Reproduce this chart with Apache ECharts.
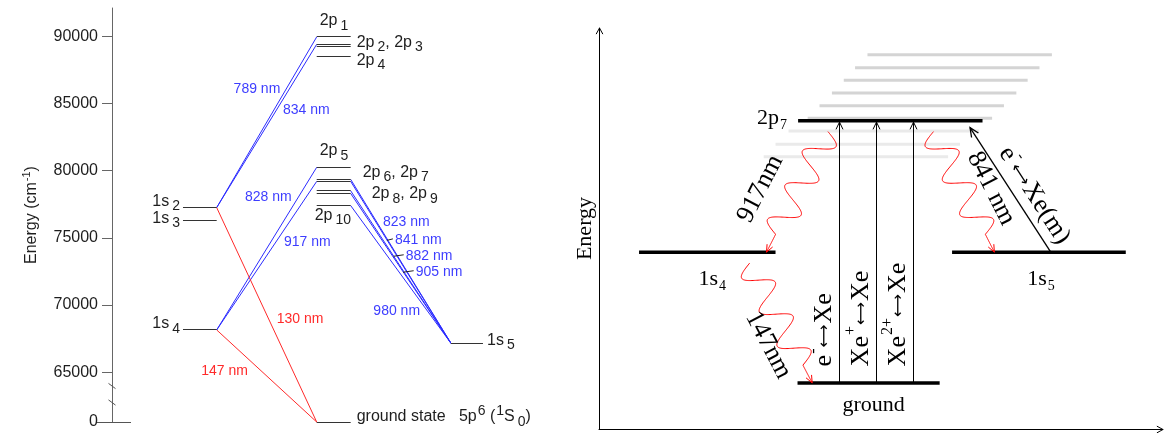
<!DOCTYPE html>
<html>
<head>
<meta charset="utf-8">
<title>Xe energy levels</title>
<script src="https://cdn.jsdelivr.net/npm/echarts@6.0.0/dist/echarts.min.js"></script>
<style>
html, body { margin: 0; padding: 0; background: #fff; }
#chart { width: 1166px; height: 433px; }
</style>
</head>
<body>
<div id="chart"></div>
<script>
// ---------- Xe I term diagram (left) ----------
// level energies in cm^-1
const levelNames    = ['1s2', '1s3', '1s4', '1s5', '2p1', '2p2', '2p3', '2p4', '2p5', '2p6', '2p7', '2p8', '2p9', '2p10', 'ground'];
const levelEnergies = [77250, 76300, 68150, 67150, 89950, 89400, 89250, 88500, 80250, 79350, 79200, 78500, 78300, 77400, 0];
const levelColumns  = ['1s', '1s', '1s', '1s5', '2p', '2p', '2p', '2p', '2p', '2p', '2p', '2p', '2p', '2p', '2p'];

// levels that share one name tag
const levelTagGroups = [['1s2'], ['1s3'], ['1s4'], ['1s5'], ['2p1'], ['2p2', '2p3'], ['2p4'], ['2p5'], ['2p6', '2p7'], ['2p8', '2p9'], ['2p10'], ['ground']];
const groundTagText  = '{m|ground state   5p}{p|6}{m| (}{p|1}{m|S}{s|0}{m|)}';

// radiative transitions, wavelength in nm
const transUpper = ['2p1', '2p2', '2p5', '2p7', '2p6', '2p7', '2p8', '2p9', '2p10', '1s2', '1s4'];
const transLower = ['1s2', '1s2', '1s4', '1s4', '1s5', '1s5', '1s5', '1s5', '1s5', 'ground', 'ground'];
const transNm    = [789, 834, 828, 917, 823, 841, 882, 905, 980, 130, 147];

// energy axis
const yTickValues = [0, 65000, 70000, 75000, 80000, 85000, 90000];

// ---------- excitation / de-excitation scheme (right) ----------
const schemeLevelNames = ['2p7', '1s4', '1s5', 'ground'];
const schemeLevelY     = [76.9, 44.1, 44.1, 11.5];
const schemeLevelFrom  = [35.3, 7.1, 62.6, 35.2];
const schemeLevelTo    = [68.0, 31.3, 93.4, 60.4];
const schemeLevelTags  = ['{m|2p}{s|7}', '{m|1s}{s|4}', '{m|1s}{s|5}', '{m|ground}'];

// higher-lying levels shown as a faint band
const bandY    = [93.3, 90.1, 87.0, 83.8, 80.6, 77.5, 74.3, 71.0, 67.9];
const bandFrom = [47.6, 45.4, 43.4, 41.3, 39.1, 37.0, 33.6, 31.3, 29.2];
const bandTo   = [80.3, 78.1, 76.0, 74.0, 71.8, 69.7, 67.4, 64.0, 61.9];

// collisional excitation ground -> 2p7
const collisionX    = [42.6, 49.2, 55.7];
const collisionTags = ['{m|e}{p|-}{a|⟷}{m|Xe}', '{m|Xe}{p|+}{a|⟷}{m|Xe}', '{m|Xe}{p|2+}{a|⟷}{m|Xe}'];

// metastable 1s5 -> 2p7 by electron collision
const quenchFrom = ['1s5'];
const quenchTo   = ['2p7'];
const quenchX0   = [80.1];
const quenchX1   = [66.5];
const quenchTags = ['{m|e}{p|-}{a|⟷}{m|Xe(m)}'];

// photon emission
const emitFrom = ['2p7', '2p7', '1s4'];
const emitTo   = ['1s4', '1s5', 'ground'];
const emitX0   = [40.6, 59.3, 26.7];
const emitX1   = [29.7, 70.1, 37.8];
const emitTags = ['917nm', '841 nm', '147nm'];

// ---------- drawing ----------
const SANS  = "'Liberation Sans', Arial, sans-serif";
const SERIF = "'Liberation Serif', 'Times New Roman', serif";
const ARROWS = "'DejaVu Sans', sans-serif";
const BLUE = '#2b2bff', BLUE_TEXT = '#3d3dff', RED = '#ff2a2a';

const AXIS_FLOOR = 61300;            // 0 cm^-1 sits here, below the axis break
const AXIS_TOP   = 92100;
const toAxis = e => (e < 60000 ? AXIS_FLOOR : e);
const crisp  = v => Math.round(v - 0.5) + 0.5;

// column spans of the term diagram on its 0..100 x scale
const COLUMN_SPAN = { '1s': [15.17, 22.37], '2p': [43.74, 51.0], '1s5': [72.44, 79.27] };

// rich text set with sub/superscripts; `centre` is the offset of the main row centre from the block top
function richSet(family, main, small, color, subGap, useEc) {
  const k = Math.round(main * 0.4);
  const mc = k + (main + 2) / 2;
  const c = useEc ? { color } : { fill: color };
  const arrowSize = Math.round(main * 0.6);
  return {
    centre: mc,
    rich: {
      m: Object.assign({ fontFamily: family, fontSize: main, lineHeight: main + 2, padding: [k, 0, 0, 0], verticalAlign: 'top' }, c),
      p: Object.assign({ fontFamily: family, fontSize: small, lineHeight: small + 1, padding: [Math.max(0, Math.round(mc - 0.4 * main - (small + 1) / 2)), 0, 0, 1], verticalAlign: 'top' }, c),
      s: Object.assign({ fontFamily: family, fontSize: small, lineHeight: small + 1, padding: [Math.round(mc - 0.5 + 0.3 * main - (small + 1) / 2), 0, 0, subGap], verticalAlign: 'top' }, c),
      a: Object.assign({ fontFamily: ARROWS, fontSize: arrowSize, lineHeight: arrowSize + 2, padding: [Math.round(mc - (arrowSize + 2) / 2 + 1), 1, 0, 1], verticalAlign: 'top' }, c)
    }
  };
}
const LEFT_RICH   = richSet(SANS, 16, 14, '#1e1e1e', 3);
const AXIS_RICH   = richSet(SANS, 16, 11, '#1e1e1e', 0, true);
const TAG_RICH    = richSet(SERIF, 22, 14, '#000', 1);
const ARROW_RICH  = richSet(SERIF, 26, 16, '#000', 1);

function richText(x, y, text, rs, align, rotation) {
  return {
    type: 'text', x, y, rotation: rotation || 0,
    style: { text, rich: rs.rich, x: 0, y: -rs.centre, align, verticalAlign: 'top' }
  };
}

function fmtLevel(name) {
  const m = name.match(/^(\d[a-z])(\d+)$/);
  return '{m|' + m[1] + '}{s|' + m[2] + '}';
}

function chevron(tip, from, len, half, color, width) {
  const ang = Math.atan2(from[1] - tip[1], from[0] - tip[0]);
  const a1 = ang + half, a2 = ang - half;
  return {
    type: 'polyline',
    shape: { points: [[tip[0] + len * Math.cos(a1), tip[1] + len * Math.sin(a1)], tip, [tip[0] + len * Math.cos(a2), tip[1] + len * Math.sin(a2)]] },
    style: { stroke: color, lineWidth: width || 1, fill: null }
  };
}

// --- term diagram: level bars
function renderLevel(params, api) {
  const i = params.dataIndex;
  const span = COLUMN_SPAN[levelColumns[i]];
  const e = toAxis(levelEnergies[i]);
  const a = api.coord([span[0], e]), b = api.coord([span[1], e]);
  const y = crisp(a[1]);
  return { type: 'line', shape: { x1: a[0], y1: y, x2: b[0], y2: y }, style: { stroke: '#333', lineWidth: 1 } };
}

// --- term diagram: level name tags
const TAG_PLACE = {
  '1s2':    { side: 'left',  dx: -3, dy: -5 },
  '1s3':    { side: 'left',  dx: -3, dy: -1 },
  '1s4':    { side: 'left',  dx: -3, dy: -5 },
  '1s5':    { side: 'right', dx: 4,  dy: -2 },
  '2p1':    { side: 'above', dx: 3,  dy: -15 },
  '2p2':    { side: 'right', dx: 6,  dy: -1 },
  '2p4':    { side: 'right', dx: 6,  dy: 5 },
  '2p5':    { side: 'above', dx: 3,  dy: -15.5 },
  '2p6':    { side: 'right', dx: 12, dy: -6 },
  '2p8':    { side: 'right', dx: 21, dy: 4 },
  '2p10':   { side: 'below', dx: -2, dy: 11 },
  'ground': { side: 'right', dx: 6,  dy: -4 }
};
function renderLevelTag(params, api) {
  const group = levelTagGroups[params.dataIndex];
  const i = levelNames.indexOf(group[0]);
  const span = COLUMN_SPAN[levelColumns[i]];
  const e = toAxis(levelEnergies[i]);
  const a = api.coord([span[0], e]), b = api.coord([span[1], e]);
  const place = TAG_PLACE[group[0]];
  const text = group[0] === 'ground' ? groundTagText : group.map(fmtLevel).join('{m|, }');
  let x, align;
  if (place.side === 'left') { x = a[0] + place.dx; align = 'right'; }
  else if (place.side === 'right') { x = b[0] + place.dx; align = 'left'; }
  else { x = a[0] + place.dx; align = 'left'; }
  return richText(x, a[1] + place.dy, text, LEFT_RICH, align);
}

// --- term diagram: transitions
const TRANS_LABEL = {
  789: { t: 0.696, dx: -6,   align: 'right' },
  834: { t: 0.596, dx: 6.7,  align: 'left' },
  828: { t: 0.816, dx: -6.6, align: 'right' },
  917: { t: 0.589, dx: 8.4,  align: 'left' },
  823: { t: 0.261, dx: 6.1,  align: 'left' },
  841: { t: 0.361, dx: 8,    align: 'left', leader: true },
  882: { t: 0.426, dx: 12.3, align: 'left', leader: true },
  905: { t: 0.522, dx: 12.6, align: 'left', leader: true },
  980: { t: 0.764, dx: -7.3, align: 'right' },
  130: { t: 0.519, dx: 8.1,  align: 'left' },
  147: { t: 0.446, dx: -13.3, align: 'right' }
};
function renderTransition(params, api) {
  const i = params.dataIndex;
  const up = levelNames.indexOf(transUpper[i]), lo = levelNames.indexOf(transLower[i]);
  const su = COLUMN_SPAN[levelColumns[up]], sl = COLUMN_SPAN[levelColumns[lo]];
  const eu = toAxis(levelEnergies[up]), el = toAxis(levelEnergies[lo]);
  // join the facing ends of the two bars
  let A, B;
  if (su[0] > sl[1]) { A = api.coord([sl[1], el]); B = api.coord([su[0], eu]); }
  else { A = api.coord([su[1], eu]); B = api.coord([sl[0], el]); }
  const vuv = transNm[i] < 200;
  const children = [{
    type: 'line', shape: { x1: A[0], y1: A[1], x2: B[0], y2: B[1] },
    style: { stroke: vuv ? RED : BLUE, lineWidth: 1 }
  }];
  const lab = TRANS_LABEL[transNm[i]];
  if (lab) {
    const px = A[0] + (B[0] - A[0]) * lab.t, py = A[1] + (B[1] - A[1]) * lab.t;
    children.push({
      type: 'text', x: px + lab.dx, y: py,
      style: { text: transNm[i] + ' nm', fontFamily: SANS, fontSize: 14, fill: vuv ? RED : BLUE_TEXT, align: lab.align, verticalAlign: 'middle' }
    });
    if (lab.leader) {
      children.push({
        type: 'line', shape: { x1: px, y1: py + 0.5, x2: px + lab.dx - 2, y2: py - 1 },
        style: { stroke: '#222', lineWidth: 1 }
      });
    }
  }
  return { type: 'group', children };
}

// --- term diagram: axis foot and break marks
function renderAxisBreak(params, api) {
  const base = api.coord([0, AXIS_FLOOR]);
  const x = base[0], y = crisp(base[1]);
  const slash = cy => ({ type: 'line', shape: { x1: x - 3.5, y1: cy - 2.6, x2: x + 3.5, y2: cy + 2.6 }, style: { stroke: '#555', lineWidth: 1 } });
  return {
    type: 'group',
    children: [
      { type: 'line', shape: { x1: x - 15, y1: y, x2: x + 19, y2: y }, style: { stroke: '#555', lineWidth: 1 } },
      slash(y - 36.5),
      slash(y - 20)
    ]
  };
}

// --- scheme: faint band of higher levels
function renderBand(params, api) {
  const i = params.dataIndex;
  const a = api.coord([bandFrom[i], bandY[i]]), b = api.coord([bandTo[i], bandY[i]]);
  const above = bandY[i] > schemeLevelY[0];
  return { type: 'line', shape: { x1: a[0], y1: a[1], x2: b[0], y2: b[1] }, style: { stroke: above ? '#d4d4d4' : '#eaeaea', lineWidth: 3 } };
}

// --- scheme: levels and their tags
const SCHEME_TAG_PLACE = {
  '2p7':    { side: 'left',  dx: -11, dy: -1 },
  '1s4':    { side: 'below', dx: 5,   dy: 28 },
  '1s5':    { side: 'below', dx: 2,   dy: 28 },
  'ground': { side: 'below', dx: 5,   dy: 23 }
};
function renderSchemeLevel(params, api) {
  const i = params.dataIndex;
  const a = api.coord([schemeLevelFrom[i], schemeLevelY[i]]), b = api.coord([schemeLevelTo[i], schemeLevelY[i]]);
  const place = SCHEME_TAG_PLACE[schemeLevelNames[i]];
  const tag = place.side === 'left'
    ? richText(a[0] + place.dx, a[1] + place.dy, schemeLevelTags[i], TAG_RICH, 'right')
    : richText((a[0] + b[0]) / 2 + place.dx, a[1] + place.dy, schemeLevelTags[i], TAG_RICH, 'center');
  return {
    type: 'group',
    children: [
      { type: 'line', shape: { x1: a[0], y1: a[1], x2: b[0], y2: b[1] }, style: { stroke: '#000', lineWidth: 3.5 } },
      tag
    ]
  };
}
const schemeY = name => schemeLevelY[schemeLevelNames.indexOf(name)];

// --- scheme: collisional excitation arrows
function renderCollision(params, api) {
  const i = params.dataIndex;
  const a = api.coord([collisionX[i], schemeY('ground')]), b = api.coord([collisionX[i], schemeY('2p7')]);
  const x = crisp(a[0]);
  return {
    type: 'group',
    children: [
      { type: 'line', shape: { x1: x, y1: a[1], x2: x, y2: b[1] + 1 }, style: { stroke: '#000', lineWidth: 1 } },
      chevron([x, b[1] + 1.5], [x, a[1]], 8, 0.45, '#000', 1),
      richText(x - 14.5, a[1] - 16.5, collisionTags[i], ARROW_RICH, 'left', Math.PI / 2)
    ]
  };
}

// --- scheme: 1s5 -> 2p7 collision arrow
function renderQuench(params, api) {
  const i = params.dataIndex;
  const a = api.coord([quenchX0[i], schemeY(quenchFrom[i])]);
  const b0 = api.coord([quenchX1[i], schemeY(quenchTo[i])]);
  const b = [b0[0] + 8 * (b0[0] - a[0]) / Math.hypot(b0[0] - a[0], b0[1] - a[1]), b0[1] + 7];
  const ang = Math.atan2(-(a[1] - b[1]), a[0] - b[0]);
  const mid = [(a[0] + b[0]) / 2, (a[1] + b[1]) / 2];
  return {
    type: 'group',
    children: [
      { type: 'line', shape: { x1: a[0], y1: a[1], x2: b[0], y2: b[1] }, style: { stroke: '#000', lineWidth: 1.3 } },
      chevron(b, a, 10, 0.42, '#000', 1.3),
      richText(mid[0] + 23, mid[1] + 6, quenchTags[i], ARROW_RICH, 'center', ang)
    ]
  };
}

// --- scheme: photon emission (wavy red arrows)
const EMIT_LABEL = {
  '917nm':  { dx: -36, dy: -2.6 },
  '841 nm': { dx: 26.2, dy: -3 },
  '147nm':  { dx: -13.5, dy: 22.5 }
};
function wavePoints(a, b, amp, waves, tail, sign) {
  const dx = b[0] - a[0], dy = b[1] - a[1];
  const L = Math.hypot(dx, dy);
  const ux = dx / L, uy = dy / L;
  const nx = uy * sign, ny = -ux * sign;
  const span = L - tail;
  const pts = [];
  for (let s = 0; s <= L; s += 0.5) {
    const off = s <= span ? amp * Math.sin(2 * Math.PI * waves * s / span) : 0;
    pts.push([a[0] + ux * s + nx * off, a[1] + uy * s + ny * off]);
  }
  pts.push([b[0], b[1]]);
  return pts;
}
function renderEmission(params, api) {
  const i = params.dataIndex;
  const top = api.coord([emitX0[i], schemeY(emitFrom[i])]);
  const a = [top[0], top[1] + 11];
  const b = api.coord([emitX1[i], schemeY(emitTo[i])]);
  const sign = b[0] < a[0] ? 1 : -1;
  const pts = wavePoints(a, b, 14, 3, 20, sign);
  const lab = EMIT_LABEL[emitTags[i]];
  const ang = Math.atan2(-(b[1] - a[1]), b[0] - a[0]);
  // text reads upward from left to right
  const rot = ang < -Math.PI / 2 ? ang + Math.PI : ang;
  const mid = [(a[0] + b[0]) / 2, (a[1] + b[1]) / 2];
  return {
    type: 'group',
    children: [
      { type: 'polyline', shape: { points: pts }, style: { stroke: '#ff0000', lineWidth: 1, fill: null } },
      chevron(b, pts[pts.length - 12], 8, 0.4, '#ff0000', 1),
      richText(mid[0] + lab.dx, mid[1] + lab.dy, '{m|' + emitTags[i] + '}', ARROW_RICH, 'center', rot)
    ]
  };
}

// --- scheme: open arrow heads on the axes
function renderAxisArrows(params, api) {
  const top = api.coord([0, 100]), right = api.coord([100, 0]);
  const x = crisp(top[0]), y = crisp(right[1]);
  return {
    type: 'group',
    children: [
      chevron([x, top[1]], [x, top[1] + 20], 7, 0.5, '#000', 1),
      chevron([right[0], y], [right[0] - 20, y], 7, 0.5, '#000', 1)
    ]
  };
}

const idx = arr => arr.map((_, i) => [i, 0]);
const custom = (grid, data, renderItem, z) => ({
  type: 'custom', coordinateSystem: 'cartesian2d', xAxisIndex: grid, yAxisIndex: grid,
  data, renderItem, clip: false, silent: true, z: z || 2, animation: false
});

const option = {
  animation: false,
  backgroundColor: '#fff',
  grid: [
    { left: 112, top: 8, width: 468, bottom: 11 },
    { left: 599, top: 28, right: 3, bottom: 4 }
  ],
  xAxis: [
    { gridIndex: 0, type: 'value', min: 0, max: 100, show: false },
    {
      gridIndex: 1, type: 'value', min: 0, max: 100,
      axisLine: { show: true, onZero: false, lineStyle: { color: '#000', width: 1 } },
      axisTick: { show: false }, axisLabel: { show: false }, splitLine: { show: false }
    }
  ],
  yAxis: [
    {
      gridIndex: 0, type: 'value', min: AXIS_FLOOR, max: AXIS_TOP,
      splitLine: { show: false },
      axisLine: { show: true, onZero: false, lineStyle: { color: '#666', width: 1 } },
      axisTick: { show: true, length: 10, customValues: yTickValues.filter(v => v > 0).map(toAxis), lineStyle: { color: '#666' } },
      axisLabel: {
        customValues: yTickValues.map(toAxis),
        formatter: v => String(yTickValues[yTickValues.map(toAxis).indexOf(v)]),
        color: '#1e1e1e', fontFamily: SANS, fontSize: 16, margin: 14
      },
      name: '{m|Energy (cm}{p|-1}{m|)}', nameLocation: 'middle', nameGap: 76,
      nameTextStyle: { rich: AXIS_RICH.rich }
    },
    {
      gridIndex: 1, type: 'value', min: 0, max: 100,
      axisLine: { show: true, onZero: false, lineStyle: { color: '#000', width: 1 } },
      axisTick: { show: false }, axisLabel: { show: false }, splitLine: { show: false },
      name: 'Energy', nameLocation: 'middle', nameGap: 3,
      nameTextStyle: { fontFamily: SERIF, fontSize: 22, color: '#000' }
    }
  ],
  series: [
    custom(0, idx(transNm), renderTransition, 2),
    custom(0, idx(levelNames), renderLevel, 3),
    custom(0, idx(levelTagGroups), renderLevelTag, 4),
    custom(0, [[0, AXIS_FLOOR]], renderAxisBreak, 4),
    custom(1, idx(bandY), renderBand, 1),
    custom(1, idx(schemeLevelNames), renderSchemeLevel, 3),
    custom(1, idx(collisionX), renderCollision, 4),
    custom(1, idx(quenchX0), renderQuench, 4),
    custom(1, idx(emitTags), renderEmission, 4),
    custom(1, [[0, 0]], renderAxisArrows, 4)
  ]
};

const chart = echarts.init(document.getElementById('chart'), null, { renderer: 'canvas' });
chart.setOption(option);
</script>
</body>
</html>
